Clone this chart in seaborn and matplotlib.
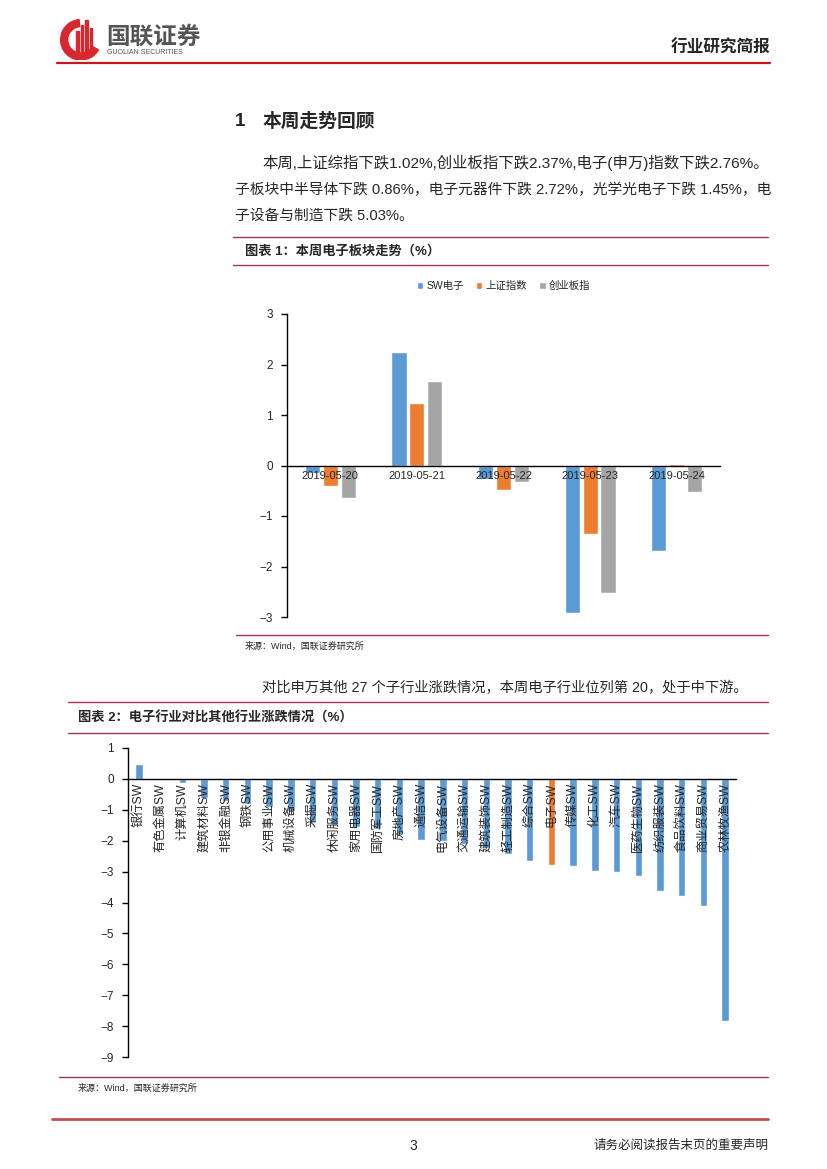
import numpy as np
import pandas as pd
import seaborn as sns
import matplotlib.pyplot as plt
from matplotlib.patches import Wedge, Rectangle
from matplotlib.lines import Line2D

W, H = 827, 1169

# chart 1: weekly moves of the electronics sector (%)
dates = ['2019-05-20', '2019-05-21', '2019-05-22', '2019-05-23', '2019-05-24']
series_names = ['SW电子', '上证指数', '创业板指']
sw_elec = [-0.15, 2.25, -0.27, -2.92, -1.70]
sh_index = [-0.40, 1.24, -0.49, -1.36, 0.02]
gem_index = [-0.64, 1.67, -0.33, -2.52, -0.52]
series_colors = ['#5B9BD5', '#ED7D31', '#A5A5A5']

# chart 2: SW industries weekly change (%)
industries = ['银行SW', '有色金属SW', '计算机SW', '建筑材料SW', '非银金融SW', '钢铁SW',
              '公用事业SW', '机械设备SW', '采掘SW', '休闲服务SW', '家用电器SW', '国防军工SW',
              '房地产SW', '通信SW', '电气设备SW', '交通运输SW', '建筑装饰SW', '轻工制造SW',
              '综合SW', '电子SW', '传媒SW', '化工SW', '汽车SW', '医药生物SW',
              '纺织服装SW', '食品饮料SW', '商业贸易SW', '农林牧渔SW']
changes = [0.48, -0.02, -0.12, -0.62, -0.72, -0.80,
           -0.90, -1.05, -1.40, -1.48, -1.55, -1.62,
           -1.80, -1.97, -2.02, -2.10, -2.23, -2.44,
           -2.67, -2.78, -2.82, -2.97, -3.00, -3.15,
           -3.63, -3.80, -4.10, -7.85]
highlight = '电子SW'

sns.set_style('white')
plt.rcParams['font.family'] = ['Liberation Sans', 'Noto Sans CJK SC', 'DejaVu Sans']
plt.rcParams['axes.unicode_minus'] = True


def rect(l, t, r, b):
    return [l / W, 1 - b / H, (r - l) / W, (b - t) / H]


def ptext(x, y, s, **kw):
    kw.setdefault('va', 'center')
    fig.text(x / W, 1 - y / H, s, **kw)


def hline(x0, x1, y, color, lw):
    fig.add_artist(Line2D([x0 / W, x1 / W], [1 - y / H, 1 - y / H],
                          transform=fig.transFigure, color=color, lw=lw))


fig = plt.figure(figsize=(W / 100, H / 100), dpi=100)

# header
logo = fig.add_axes(rect(58, 16, 102, 60))
logo.set_xlim(0, 1)
logo.set_ylim(0, 1)
logo.axis('off')
logo.add_patch(Wedge((0.52, 0.46), 0.46, 95, 330, width=0.16, color='#D7282F'))
for x, h in [(0.42, 0.55), (0.52, 0.7), (0.62, 0.8), (0.72, 0.62)]:
    logo.add_patch(Rectangle((x, 0.1), 0.055, h, color='#D7282F'))
ptext(106, 37, '国联证券', fontsize=17, fontweight='bold', color='#555555')
ptext(107, 53, 'GUOLIAN SECURITIES', fontsize=5, color='#555555')
ptext(770, 48, '行业研究简报', fontsize=12, fontweight='bold', ha='right')
hline(57, 770, 63, '#C8161D', 1.6)

ptext(235, 122, '1', fontsize=13.5, fontweight='bold')
ptext(263, 122, '本周走势回顾', fontsize=13.5, fontweight='bold')
ptext(262, 163, '本周,上证综指下跌1.02%,创业板指下跌2.37%,电子(申万)指数下跌2.76%。', fontsize=11.1)
ptext(235, 190, '子板块中半导体下跌 0.86%，电子元器件下跌 2.72%，光学光电子下跌 1.45%，电', fontsize=10.6)
ptext(235, 216, '子设备与制造下跌 5.03%。', fontsize=10.6)

# chart 1 frame
frame_c = '#A8325A'
hline(233, 768, 237, frame_c, 1.0)
hline(233, 768, 265, frame_c, 1.0)
ptext(245, 251, '图表 1：本周电子板块走势（%）', fontsize=9.5, fontweight='bold')
hline(236, 768, 635, frame_c, 1.0)
ptext(245, 646, '来源：Wind，国联证券研究所', fontsize=6.5)

df1 = pd.DataFrame({
    'date': dates * 3,
    'series': np.repeat(series_names, len(dates)),
    'value': sw_elec + sh_index + gem_index,
})
ax1 = fig.add_axes(rect(287, 314, 720, 617))
sns.barplot(data=df1, x='date', y='value', hue='series', palette=series_colors,
            width=0.62, gap=0.16, saturation=1, ax=ax1)
ax1.set_axisbelow(False)
ax1.set_xlim(-0.5, len(dates) - 0.5)
ax1.set_ylim(-3, 3)
ax1.set_yticks(range(-3, 4))
ax1.set_xlabel('')
ax1.set_ylabel('')
for s in ['top', 'right']:
    ax1.spines[s].set_visible(False)
ax1.spines['bottom'].set_position(('data', 0))
for s in ['left', 'bottom']:
    ax1.spines[s].set_color('black')
    ax1.spines[s].set_linewidth(1)
ax1.set_xticks(np.arange(0.5, len(dates), 1), minor=True)
ax1.tick_params(axis='x', which='major', length=0, pad=4, labelsize=8)
ax1.tick_params(axis='x', which='minor', length=4, direction='out', color='black', width=1)
ax1.tick_params(axis='y', length=4, direction='out', color='black', width=1, labelsize=8.5, pad=6, left=True)
sns.move_legend(ax1, 'lower center', bbox_to_anchor=(0.5, 1.045), ncol=3, frameon=False,
                title=None, fontsize=7.5, handlelength=0.6, handleheight=0.6,
                handletextpad=0.3, columnspacing=1.2)

# paragraph between charts
ptext(262, 688, '对比申万其他 27 个子行业涨跌情况，本周电子行业位列第 20，处于中下游。', fontsize=10.3)

# chart 2 frame
hline(68, 768, 702, frame_c, 1.0)
hline(68, 768, 733, frame_c, 1.0)
ptext(78, 718, '图表 2：电子行业对比其他行业涨跌情况（%）', fontsize=9.5, fontweight='bold')
hline(59, 768, 1077, frame_c, 1.0)
ptext(78, 1088, '来源：Wind，国联证券研究所', fontsize=6.5)

ax2 = fig.add_axes(rect(128, 748, 736, 1057))
pal = {n: ('#ED7D31' if n == highlight else '#5B9BD5') for n in industries}
sns.barplot(x=industries, y=changes, hue=industries, palette=pal, width=0.34,
            legend=False, saturation=1, ax=ax2)
ax2.set_axisbelow(False)
ax2.set_xlim(-0.5, len(industries) - 0.5)
ax2.set_ylim(-9, 1)
ax2.set_yticks(range(-9, 2))
for s in ['top', 'right']:
    ax2.spines[s].set_visible(False)
ax2.spines['bottom'].set_position(('data', 0))
for s in ['left', 'bottom']:
    ax2.spines[s].set_color('black')
    ax2.spines[s].set_linewidth(1)
ax2.set_xticks(np.arange(0.5, len(industries), 1), minor=True)
ax2.tick_params(axis='x', which='major', length=0, pad=3, labelsize=8.8, labelrotation=90)
ax2.tick_params(axis='x', which='minor', length=4, direction='out', color='black', width=1)
ax2.tick_params(axis='y', length=4, direction='out', color='black', width=1, labelsize=8.5, pad=6, left=True)

# footer
hline(52, 768, 1119, '#C0504D', 2.0)
ptext(413, 1146, '3', fontsize=10, ha='center')
ptext(768, 1146, '请务必阅读报告末页的重要声明', fontsize=9, ha='right')

fig.savefig('out.png', dpi=100)
